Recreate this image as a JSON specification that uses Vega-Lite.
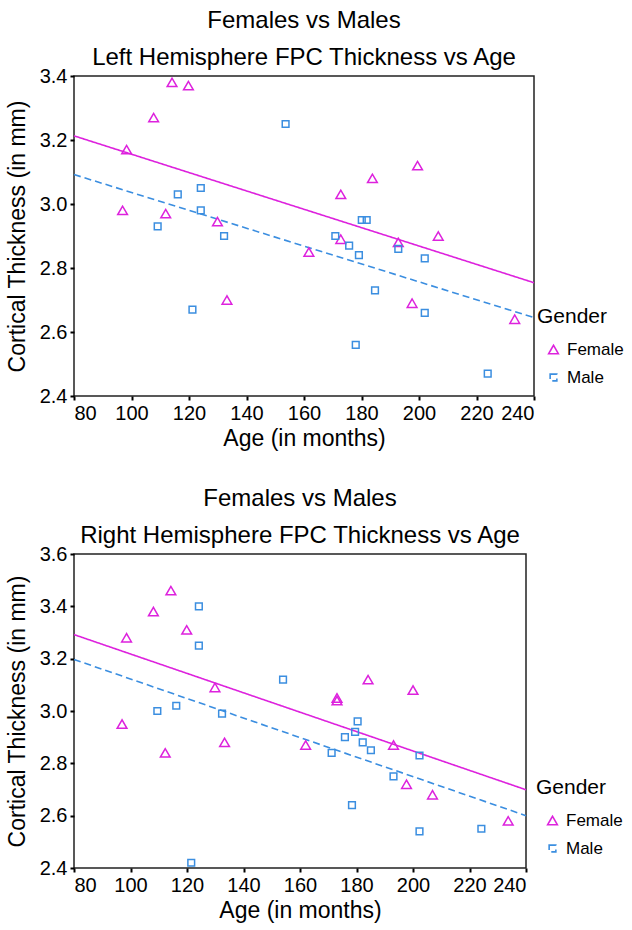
{
  "$schema": "https://vega.github.io/schema/vega-lite/v6.json",
  "background": "white",
  "padding": {"left": 5, "top": 8, "right": 0, "bottom": 0},
  "config": {
    "font": "Liberation Sans",
    "view": {"stroke": "#222222", "strokeWidth": 1.5},
    "axis": {"grid": false, "domain": false, "tickColor": "black", "tickSize": 4, "tickWidth": 2, "labelFontSize": 20, "labelColor": "black", "titleFontSize": 23, "titleFontWeight": "normal", "titleColor": "black", "labelPadding": 3},
    "title": {"fontSize": 24, "fontWeight": "normal", "lineHeight": 37, "color": "black", "offset": -4},
    "concat": {"spacing": 35}
  },
  "datasets": {
    "left": [
      {"age": 96.9, "thickness": 2.98, "gender": "Female"},
      {"age": 98.3, "thickness": 3.17, "gender": "Female"},
      {"age": 107.7, "thickness": 3.27, "gender": "Female"},
      {"age": 111.9, "thickness": 2.97, "gender": "Female"},
      {"age": 114.1, "thickness": 3.38, "gender": "Female"},
      {"age": 119.8, "thickness": 3.37, "gender": "Female"},
      {"age": 129.9, "thickness": 2.945, "gender": "Female"},
      {"age": 133.2, "thickness": 2.70, "gender": "Female"},
      {"age": 161.7, "thickness": 2.85, "gender": "Female"},
      {"age": 172.8, "thickness": 3.03, "gender": "Female"},
      {"age": 172.8, "thickness": 2.89, "gender": "Female"},
      {"age": 183.8, "thickness": 3.08, "gender": "Female"},
      {"age": 192.8, "thickness": 2.88, "gender": "Female"},
      {"age": 197.6, "thickness": 2.69, "gender": "Female"},
      {"age": 199.5, "thickness": 3.12, "gender": "Female"},
      {"age": 206.7, "thickness": 2.90, "gender": "Female"},
      {"age": 233.3, "thickness": 2.64, "gender": "Female"},
      {"age": 109.1, "thickness": 2.93, "gender": "Male"},
      {"age": 116.1, "thickness": 3.03, "gender": "Male"},
      {"age": 121.2, "thickness": 2.67, "gender": "Male"},
      {"age": 124.1, "thickness": 3.05, "gender": "Male"},
      {"age": 124.1, "thickness": 2.98, "gender": "Male"},
      {"age": 132.2, "thickness": 2.90, "gender": "Male"},
      {"age": 153.6, "thickness": 3.25, "gender": "Male"},
      {"age": 170.9, "thickness": 2.90, "gender": "Male"},
      {"age": 175.7, "thickness": 2.87, "gender": "Male"},
      {"age": 178.0, "thickness": 2.56, "gender": "Male"},
      {"age": 179.1, "thickness": 2.84, "gender": "Male"},
      {"age": 180.1, "thickness": 2.95, "gender": "Male"},
      {"age": 181.8, "thickness": 2.95, "gender": "Male"},
      {"age": 184.7, "thickness": 2.73, "gender": "Male"},
      {"age": 192.8, "thickness": 2.86, "gender": "Male"},
      {"age": 202.0, "thickness": 2.83, "gender": "Male"},
      {"age": 202.0, "thickness": 2.66, "gender": "Male"},
      {"age": 223.9, "thickness": 2.47, "gender": "Male"}
    ],
    "leftFit": [
      {"age": 80, "thickness": 3.213, "gender": "Female"},
      {"age": 240, "thickness": 2.754, "gender": "Female"},
      {"age": 80, "thickness": 3.092, "gender": "Male"},
      {"age": 240, "thickness": 2.645, "gender": "Male"}
    ],
    "right": [
      {"age": 97.0, "thickness": 2.95, "gender": "Female"},
      {"age": 98.6, "thickness": 3.28, "gender": "Female"},
      {"age": 108.1, "thickness": 3.38, "gender": "Female"},
      {"age": 112.3, "thickness": 2.84, "gender": "Female"},
      {"age": 114.3, "thickness": 3.46, "gender": "Female"},
      {"age": 119.9, "thickness": 3.31, "gender": "Female"},
      {"age": 129.9, "thickness": 3.09, "gender": "Female"},
      {"age": 133.3, "thickness": 2.88, "gender": "Female"},
      {"age": 162.0, "thickness": 2.87, "gender": "Female"},
      {"age": 173.1, "thickness": 3.05, "gender": "Female"},
      {"age": 173.1, "thickness": 3.04, "gender": "Female"},
      {"age": 184.1, "thickness": 3.12, "gender": "Female"},
      {"age": 193.1, "thickness": 2.87, "gender": "Female"},
      {"age": 197.7, "thickness": 2.72, "gender": "Female"},
      {"age": 200.0, "thickness": 3.08, "gender": "Female"},
      {"age": 206.9, "thickness": 2.68, "gender": "Female"},
      {"age": 233.7, "thickness": 2.58, "gender": "Female"},
      {"age": 109.5, "thickness": 3.00, "gender": "Male"},
      {"age": 116.2, "thickness": 3.02, "gender": "Male"},
      {"age": 121.5, "thickness": 2.42, "gender": "Male"},
      {"age": 124.2, "thickness": 3.40, "gender": "Male"},
      {"age": 124.2, "thickness": 3.25, "gender": "Male"},
      {"age": 132.4, "thickness": 2.99, "gender": "Male"},
      {"age": 154.0, "thickness": 3.12, "gender": "Male"},
      {"age": 171.2, "thickness": 2.84, "gender": "Male"},
      {"age": 175.9, "thickness": 2.90, "gender": "Male"},
      {"age": 178.4, "thickness": 2.64, "gender": "Male"},
      {"age": 179.5, "thickness": 2.92, "gender": "Male"},
      {"age": 180.4, "thickness": 2.96, "gender": "Male"},
      {"age": 182.2, "thickness": 2.88, "gender": "Male"},
      {"age": 185.1, "thickness": 2.85, "gender": "Male"},
      {"age": 193.1, "thickness": 2.75, "gender": "Male"},
      {"age": 202.3, "thickness": 2.83, "gender": "Male"},
      {"age": 202.3, "thickness": 2.54, "gender": "Male"},
      {"age": 224.2, "thickness": 2.55, "gender": "Male"}
    ],
    "rightFit": [
      {"age": 80, "thickness": 3.292, "gender": "Female"},
      {"age": 240, "thickness": 2.699, "gender": "Female"},
      {"age": 80, "thickness": 3.197, "gender": "Male"},
      {"age": 240, "thickness": 2.600, "gender": "Male"}
    ]
  },
  "vconcat": [
    {
      "title": {"text": ["Females vs Males", "Left Hemisphere FPC Thickness vs Age"]},
      "width": 460,
      "height": 320,
      "layer": [
        {
          "data": {"name": "leftFit"},
          "mark": {"type": "line", "strokeWidth": 1.6},
          "encoding": {
            "x": {"field": "age", "type": "quantitative", "scale": {"domain": [80, 240], "nice": false, "zero": false}, "axis": {"values": [80, 100, 120, 140, 160, 180, 200, 220, 240], "title": "Age (in months)"}},
            "y": {"field": "thickness", "type": "quantitative", "scale": {"domain": [2.4, 3.4], "nice": false, "zero": false}, "axis": {"values": [2.4, 2.6, 2.8, 3.0, 3.2, 3.4], "format": ".1f", "title": "Cortical Thickness (in mm)", "titlePadding": 10}},
            "color": {"field": "gender", "type": "nominal", "scale": {"domain": ["Female", "Male"], "range": ["#dd22dd", "#3b8ee0"]},
              "legend": {"title": "Gender", "orient": "none", "legendX": 463, "legendY": 230, "symbolSize": 100, "symbolStrokeWidth": 1.6, "labelFontSize": 17, "labelColor": "black", "titleFontSize": 21, "titleFontWeight": "normal", "titleColor": "black", "titlePadding": 14, "rowPadding": 10, "symbolOffset": 8, "labelOffset": 5}},
            "strokeDash": {"field": "gender", "type": "nominal", "scale": {"domain": ["Female", "Male"], "range": [[1, 0], [7, 4]]}, "legend": null}
          }
        },
        {
          "data": {"name": "left"},
          "mark": {"type": "point", "filled": false, "strokeWidth": 1.5, "opacity": 1},
          "encoding": {
            "x": {"field": "age", "type": "quantitative"},
            "y": {"field": "thickness", "type": "quantitative"},
            "color": {"field": "gender", "type": "nominal"},
            "shape": {"field": "gender", "type": "nominal", "scale": {"domain": ["Female", "Male"], "range": ["triangle-up", "square"]}, "legend": null},
            "size": {"field": "gender", "type": "nominal", "scale": {"domain": ["Female", "Male"], "range": [95, 45]}, "legend": null}
          }
        }
      ]
    },
    {
      "title": {"text": ["Females vs Males", "Right Hemisphere FPC Thickness vs Age"]},
      "width": 452,
      "height": 314,
      "layer": [
        {
          "data": {"name": "rightFit"},
          "mark": {"type": "line", "strokeWidth": 1.6},
          "encoding": {
            "x": {"field": "age", "type": "quantitative", "scale": {"domain": [80, 240], "nice": false, "zero": false}, "axis": {"values": [80, 100, 120, 140, 160, 180, 200, 220, 240], "title": "Age (in months)"}},
            "y": {"field": "thickness", "type": "quantitative", "scale": {"domain": [2.4, 3.6], "nice": false, "zero": false}, "axis": {"values": [2.4, 2.6, 2.8, 3.0, 3.2, 3.4, 3.6], "format": ".1f", "title": "Cortical Thickness (in mm)", "titlePadding": 10}},
            "color": {"field": "gender", "type": "nominal", "scale": {"domain": ["Female", "Male"], "range": ["#dd22dd", "#3b8ee0"]},
              "legend": {"title": "Gender", "orient": "none", "legendX": 462, "legendY": 223, "symbolSize": 100, "symbolStrokeWidth": 1.6, "labelFontSize": 17, "labelColor": "black", "titleFontSize": 21, "titleFontWeight": "normal", "titleColor": "black", "titlePadding": 14, "rowPadding": 10, "symbolOffset": 8, "labelOffset": 5}},
            "strokeDash": {"field": "gender", "type": "nominal", "scale": {"domain": ["Female", "Male"], "range": [[1, 0], [7, 4]]}, "legend": null}
          }
        },
        {
          "data": {"name": "right"},
          "mark": {"type": "point", "filled": false, "strokeWidth": 1.5, "opacity": 1},
          "encoding": {
            "x": {"field": "age", "type": "quantitative"},
            "y": {"field": "thickness", "type": "quantitative"},
            "color": {"field": "gender", "type": "nominal"},
            "shape": {"field": "gender", "type": "nominal", "scale": {"domain": ["Female", "Male"], "range": ["triangle-up", "square"]}, "legend": null},
            "size": {"field": "gender", "type": "nominal", "scale": {"domain": ["Female", "Male"], "range": [95, 45]}, "legend": null}
          }
        }
      ]
    }
  ],
  "resolve": {"scale": {"color": "independent", "shape": "independent", "strokeDash": "independent", "size": "independent", "x": "independent", "y": "independent"}, "legend": {"color": "independent"}}
}
